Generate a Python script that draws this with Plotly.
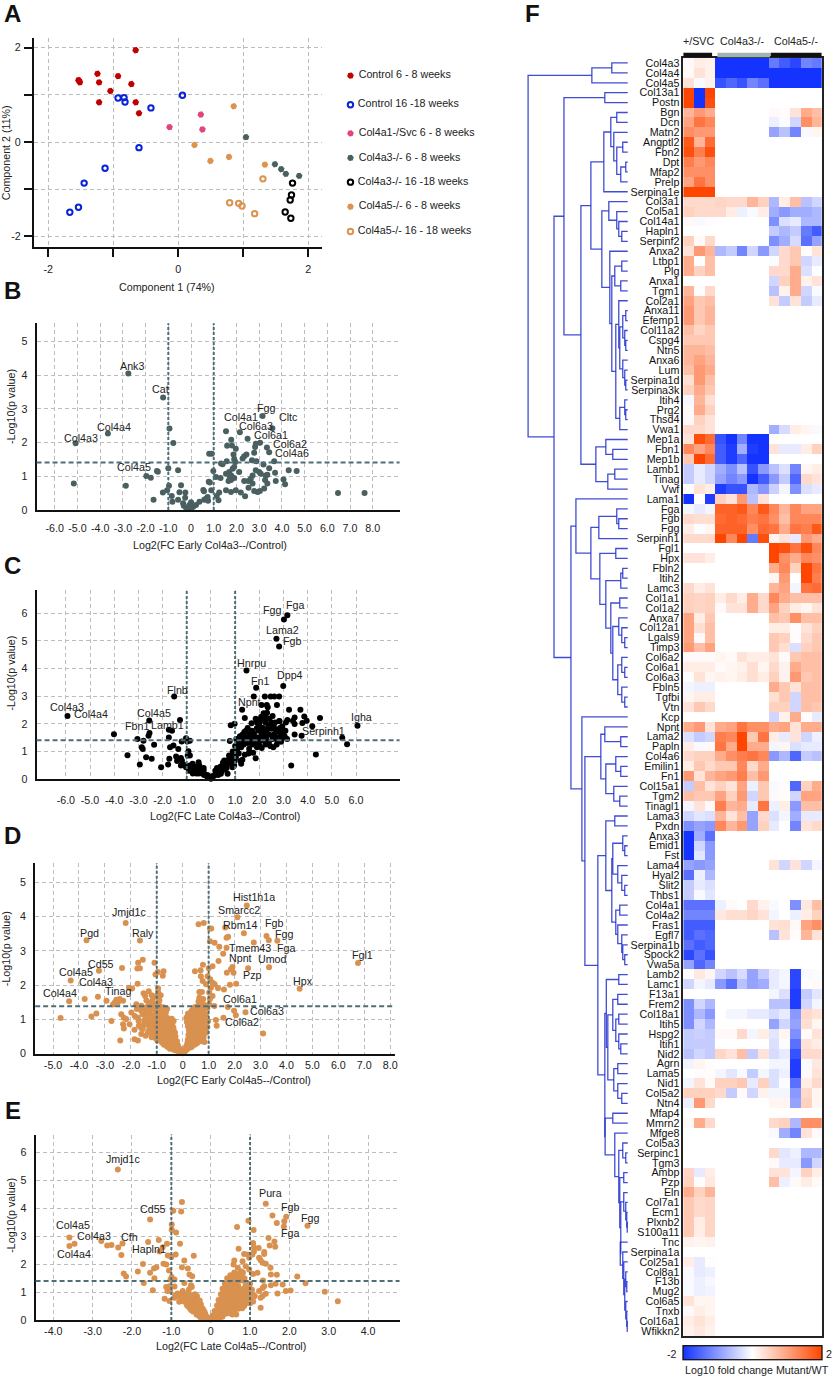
import plotly.graph_objects as go

W, H = 837, 1382
FONT = "Liberation Sans"
FS = 10.7
TXT = "#222222"

# ---------- Panel A : PCA ----------
pca_groups = ["Control 6 - 8 weeks", "Control 16 -18 weeks", "Col4a1-/Svc 6 - 8 weeks", "Col4a3-/- 6 - 8 weeks",
              "Col4a3-/- 16 -18 weeks", "Col4a5-/- 6 - 8 weeks", "Col4a5-/- 16 - 18 weeks"]
pca_colors = ["#c00000", "#0a22d8", "#e0457f", "#4a6060", "#000000", "#dc9350", "#dc9350"]
pca_filled = [True, False, True, True, False, True, False]
pca_x = [
    [-.654, -1.242, -1.523, -1.513, -.925, -1.217, -.721, -1.043, -1.217, -.654, -.603, -1.534],
    [-.925, -.833, -.818, -.419, .066, -.603, -1.125, -1.447, -1.534, -1.667],
    [-.133, .348, .373],
    [1.043, 1.488, 1.585, 1.656, 1.861],
    [1.759, 1.743, 1.723, 1.646, 1.733],
    [.854, .251, .496, .782, 1.334],
    [1.304, .792, .93, .982, 1.176],
]
pca_y = [
    [1.947, 1.448, 1.30, 1.265, 1.398, 1.265, 1.23, 1.082, .843, .843, .611, 1.314],
    [.935, .942, .85, .724, .991, -.119, -.555, -.871, -1.384, -1.49],
    [.316, .583, .267],
    [.105, -.471, -.576, -.675, -.717],
    [-.871, -1.124, -1.23, -1.483, -1.616],
    [.759, -.063, -.401, -.316, -.478],
    [-.78, -1.286, -1.3, -1.356, -1.518],
]
legend_rows = [0, 1.01, 2.0, 2.85, 3.69, 4.54, 5.4]

# ---------- Panel B ----------
b_points = [(-2.76,4.05),(-1.23,3.34),(-3.66,2.27),(-5.08,1.98),(3.15,2.79),(3.58,2.43),(-5.16,.79),(-2.87,.72),(-.95,2.42),(-.78,1.99),
(-1.0,1.24),(-.57,1.18),(-1.5,1.16),(-1.46,1.14),(-1.97,1.01),(-1.77,.96),(-1.65,.31),(-.97,.72),(-1.05,.59),(-1.24,.52),(-.85,.42),(-.82,.25),
(-.57,.31),(-.51,.53),(-.44,.74),(-.25,.52),(-.26,.37),(-.35,.2),(-.32,.13),(-.22,.07),(0,.23),(-.07,.15),(.1,.1),(.22,.15),(0,.03),(-.1,.05),
(.04,.1),(.37,.25),(.54,.6),(.57,.56),(.73,.39),(.66,.34),(.75,.28),(.58,.31),(.89,.59),(.78,.84),(.83,.82),(1.13,.42),(1.21,.29),(1.24,.52),
(.98,1.16),(.8,1.67),(.91,1.67),(1.1,.98),(1.3,.95),(1.32,1.38),(1.39,1.36),(1.57,1.45),(1.54,2.34),(1.59,1.91),(1.77,2.09),(1.8,1.92),(1.97,1.82),
(2.15,2.31),(2.49,2.12),(1.87,1.65),(1.9,1.51),(1.95,1.43),(1.9,1.28),(1.83,1.23),(1.54,1.08),(1.68,1.13),(1.77,1.03),(2.12,1.13),(1.54,.59),(1.76,.54),
(1.97,.59),(2.19,.52),(2.38,.41),(2.53,.66),(2.34,.86),(2.52,.86),(2.63,.93),(2.71,.79),(2.78,.57),(2.93,.54),(3.03,.57),(3.22,.64),(1.65,.86),(1.76,.89),
(1.9,.95),(1.71,.95),(2.27,1.53),(2.34,1.6),(2.44,1.65),(2.68,1.48),(2.88,1.45),(3.19,1.35),(2.85,1.18),(3,1.13),(3.07,1.08),(2.71,1.03),(3.44,1.24),
(3.66,1.45),(3.7,1.11),(3.29,1.03),(3.36,1.05),(3.26,.89),(3.36,.79),(3.73,.86),(4.07,.91),(4.14,.77),(4.3,1.18),(4.65,1.16),(6.47,.51),(7.64,.51),
(3.34,1.86),(3.44,1.72),(2.85,1.97),(3.04,2),(2.82,1.87),(2.78,1.7)]
b_labels = [("Ank3",-2.59,4.28),("Cat",-1.33,3.6),("Col4a4",-3.39,2.46),("Col4a3",-4.86,2.15),("Col4a5",-2.49,1.28),("Fgg",3.29,3.02),("Cltc",4.29,2.75),
("Col4a1",2.19,2.75),("Col6a3",2.88,2.49),("Col6a1",3.53,2.22),("Col6a2",4.34,1.97),("Col4a6",4.46,1.68)]

# ---------- Panel C ----------
c_points = [(3.16,5.93),(3.02,5.77),(2.71,5.08),(2.82,4.8),(1.47,3.93),(2.99,3.37),(1.87,3.3),(1.77,2.99),(2.23,2.99),(2.47,2.99),(2.62,2.99),(2.82,2.99),
(2.09,2.68),(2.31,2.68),(2.73,2.68),(-1.52,2.99),(-5.93,2.28),(-2.55,2.12),(-1.28,2.14),(1.29,2.51),(1.4,2.21),(6.06,1.93),(-4.01,1.62),(5.43,1.49),(5.63,1.26),
(4.34,.89),(3.32,.49),(4.51,2.21),(4.19,1.91),(3.75,1.57),(3.46,1.61),(3.7,2.51),(3.23,2.51),(3.86,2.26),(3.96,2.11),(3.78,2.03),(3.46,2.23),(3.39,2.11),(3.46,1.99),
(3.16,2.14),(2.84,2.09),(-3.04,1.45),(-2.79,1.39),(-2.54,1.67),(-2.58,1.57),(-2.35,1.24),(-2.86,1.15),(-2.82,1.09),(-3.45,.86),(-2.68,.79),(-2.45,.73),(-2.94,.53),
(-2.06,.43),(-1.77,.53),(-1.72,.73),(-1.74,1.78),(-1.61,1.75),(-1.74,1.5),(-1.55,1.21),(-1.69,1.15),(-1.21,1.36),(-1.03,1.48),(-.87,1.39),(-.98,1.36),(-1.35,1.09),
(-.93,1.01),(-.87,.85),(-.96,.85),(-1.44,.82),(-1.37,.73),(-1.24,.76),(-1.2,.67),(-1.4,.65),(-1.24,.49),(-1.13,.53),(-1.03,.43),(-.89,.49),(-.76,.55),(-.51,.61),
(-.48,.49),(-.82,.31),(-.69,.37),(-.62,.25),(-.41,.31),(-.34,.19),(-.21,.13),(-.14,.07),(-.07,.04),(0,.01),(.07,.07),(.14,.13),(.21,.19),(.27,.25),(.34,.31),(.41,.19),
(.51,.43),(.55,.67),(.62,.49),(.69,.19),(.76,.55),(.82,.79),(.89,.43),(.96,.49),(1.03,.79),(1.06,1.03),(-.9,.3),(-.75,.4),(-.6,.45),(-.55,.3),(-.45,.4),(-.5,.2),(-.3,.3),
(-.28,.15),(-.15,.15),(-.1,.1),(.1,.12),(.18,.3),(.25,.4),(.3,.15),(.38,.35),(.45,.28),(.5,.6),(.58,.35),(.65,.4),(.72,.7),(.8,.62),(.88,.68),(.95,.85),(1.02,.95),(1.1,1.1),
(1.15,.92),(1.22,.65),(1.25,.55),(1.3,.7),(1.4,.88),(1.55,.92),(1.75,.95),(1.85,.75),(.78,1.38),(.82,1.95),(.98,2),(1.05,1.45),(1.1,1.4),(1.2,1.32),(1.25,1.15),(1.3,1.6),
(1.35,1.25),(1.38,1.7),(1.45,1.52),(1.5,1.3),(1.52,1.85),(1.58,1.1),(1.6,1.62),(1.65,1.4),(1.68,2.02),(1.72,1.25),(1.75,1.55),(1.8,1.35),(1.85,2.18),(1.9,1.15),(1.95,1.5),
(1.98,1.75),(2.0,1.95),(2.05,1.4),(2.08,2.25),(2.12,1.65),(2.15,1.85),(2.18,2.38),(2.22,1.55),(2.25,2.05),(2.3,1.75),(2.32,2.4),(2.38,1.95),(2.42,2.18),(2.45,1.2),(2.5,1.82),
(2.55,2.28),(2.58,1.15),(2.62,1.62),(2.65,2.05),(2.7,1.5),(2.75,1.4),(2.78,1.72),(2.82,2.1),(2.88,1.6),(2.9,1.35),(2.95,1.9),(3.0,1.7),(3.05,1.55),(3.1,2.05),(3.15,1.45),
(2.1,1.12),(2.25,1.25),(2.4,1.35),(1.6,.95),(1.15,1.25),(1.35,1.45),(1.0,1.2),(2.35,2.6),(2.2,2.2),(2.6,1.9),(2.05,2.1),(1.9,1.85),(1.7,1.75),(1.45,1.75),(1.25,1.42),
(1.2,1.55),(1.3,1.35),(1.42,1.38),(1.55,1.48),(1.62,1.3),(1.7,1.45),(1.78,1.65),(1.85,1.5),(1.92,1.32),(2.0,1.22),(2.08,1.55),(2.15,1.4),(2.2,1.72),(2.28,1.45),(2.35,1.82),(2.42,1.6),(2.5,2.05),
(2.55,1.45),(2.68,1.78),(2.72,1.25),(2.8,1.45),(2.85,1.85),(2.92,1.75),(2.98,1.5),(3.08,1.75),(2.25,2.3),(2.0,2.15),(1.9,2.05),(.85,.85),(.9,1.0),(.98,.65),(.75,.85),(.6,.6),(.4,.45),(-.3,.4),(-.6,.2),(-.75,.2)]
c_labels = [("Fga",3.46,6.3),("Fgg",2.53,6.12),("Lama2",2.94,5.38),("Fgb",3.34,4.99),("Hnrpu",1.66,4.21),("Dpp4",3.27,3.77),("Fn1",2.03,3.55),("Flnb",-1.4,3.23),
("Npnt",1.61,2.8),("Col4a3",-5.95,2.59),("Col4a4",-4.97,2.35),("Col4a5",-2.34,2.39),("Fbn1",-3.05,1.92),("Lamb1",-1.79,1.97),("Igha",6.22,2.26),("Serpinh1",4.67,1.73)]

# ---------- Panel D ----------
d_points = [(2.47,4.32),(2.11,3.98),(.61,3.77),(.81,3.81),(-2.2,3.81),(1.64,3.68),(1.05,3.65),(1.1,3.65),(2.36,3.51),(3.23,3.43),(3.32,3.31),(3.65,3.29),(2.74,3.24),(1.75,3.41),
(1.69,3.38),(1.05,3.28),(1.23,3.23),(1.41,3.12),(1.69,3.09),(1.56,2.91),(1.38,2.7),(-1.65,3.3),(-3.71,3.31),(-1.54,2.74),(-1.72,2.65),(-1.09,2.65),(-2.34,2.5),(-3.23,2.42),
(-1.75,2.48),(-1.65,2.49),(-.96,2.38),(-.74,2.4),(-1.05,2.31),(-.77,2.27),(-4.32,2.13),(-1.74,2.04),(-2.07,1.92),(-1.95,1.9),(-.95,1.91),(-1.31,1.82),(-1.51,1.76),(-1.45,1.68),
(-4.38,1.53),(-3.78,1.59),(-3.27,1.66),(-2.94,1.54),(-2.56,1.57),(-2.43,1.59),(-2.3,1.54),(-2.62,1.49),(-2.5,1.49),(-2.69,1.43),(-4.71,1.04),(-3.52,1.08),(-3.33,1.17),(-2.75,.95),
(-2.41,.38),(-1.86,.42),(-1.73,.38),(6.76,2.64),(4.51,1.89),(3.33,2.52),(2.52,2.49),(1.92,2.53),(1.86,2.46),(1.7,2.36),(1.96,2.36),(1.82,2.01),(2.06,2.04),(3.1,.59),(2.42,1.21),
(1.98,1.25),(2.05,1.12),(1.74,1.36),(1.57,1.05),(1.28,.98),(1.31,.81),(1.59,1.87),(1.36,1.91),(1.23,2.02),(1.09,1.92),(.78,2.59),(.47,2.4),(.69,2.43),(1,2.49),(1.15,2.55),(.7,2.26),
(.96,2.26),(.77,2.12),(.9,2.02),(1.06,2.17),(1.15,2.07),(.64,1.8),(.74,1.8),(1.02,1.78),(1.15,1.68),(.64,1.63),(.79,1.59),(.61,1.52),(1.05,1.59),(1.02,1.44),(1.22,1.39),
(-2.37,1.15),(-2.27,1.05),(-2.18,1.01),(-2.3,.86),(-2.27,.73),(-2.05,.86),(-1.98,1.2),(-1.77,1.3),(-1.79,1.44),(-1.86,.7),(-1.73,1.05),(-1.69,.81),(-1.54,.72),(-1.6,.57),(-1.43,.52),
(-1.47,1.34),(-1.34,1.39),(-1.28,1.49),(-1.15,1.59),(-1.02,1.68),(-.9,1.55),(-1.1,1.45),(-.92,1.42),(-.75,1.35),(-1.2,1.3),(-1.05,1.25),(-.85,1.22),(-.65,1.2),(-1.55,1.15),(-1.4,1.12),
(-1.25,1.15),(-1.1,1.1),(-.95,1.08),(-.8,1.05),(-.6,1.05),(-.42,1.02),(-1.48,.98),(-1.32,.98),(-1.18,.95),(-1.02,.95),(-.88,.92),(-.72,.92),(-.55,.9),(-.4,.88),(-1.4,.85),(-1.25,.82),
(-1.12,.82),(-.98,.8),(-.82,.8),(-.68,.78),(-.52,.78),(-.36,.76),(-1.3,.7),(-1.15,.7),(-1.02,.68),(-.88,.68),(-.72,.66),(-.58,.66),(-.45,.64),(-.3,.62),(-1.15,.58),(-1.0,.56),(-.85,.55),
(-.7,.55),(-.55,.53),(-.4,.5),(-.28,.5),(-1.05,.45),(-.9,.44),(-.75,.44),(-.6,.42),(-.45,.4),(-.32,.38),(-.22,.36),(-.8,.32),(-.65,.32),(-.5,.3),(-.38,.28),(-.26,.26),(-.18,.24),(-.6,.2),
(-.45,.2),(-.32,.18),(-.22,.16),(-.12,.14),(-.3,.1),(-.2,.08),(-.12,.07),(-.06,.04),(0,.01),(.04,.05),(.1,.08),(.08,.14),(.16,.12),(.14,.22),(.22,.2),(.3,.18),(.18,.32),(.26,.3),(.36,.28),
(.46,.26),(.2,.42),(.3,.42),(.4,.4),(.5,.4),(.62,.38),(.84,.34),(.22,.55),(.32,.54),(.42,.52),(.52,.52),(.62,.5),(.74,.5),(.24,.68),(.34,.66),(.44,.66),(.54,.64),(.64,.64),(.76,.62),(.9,.62),
(.2,.8),(.3,.8),(.4,.78),(.5,.78),(.6,.76),(.7,.76),(.82,.74),(.95,.78),(.16,.92),(.26,.92),(.36,.9),(.46,.9),(.56,.88),(.66,.88),(.78,.88),(.98,.95),(.14,1.05),(.24,1.05),(.34,1.03),
(.44,1.03),(.54,1.0),(.64,1.0),(.76,1.02),(.2,1.16),(.3,1.15),(.4,1.15),(.5,1.14),(.6,1.12),(.72,1.14),(.9,1.15),(.35,1.26),(.45,1.26),(.55,1.25),(.65,1.24),(.8,1.28),(.48,1.36),(.6,1.36),(.72,1.35),
(.95,1.32),(.68,1.45),(.82,1.42),
(-1.85,1.1),(-1.7,.95),(-1.6,1.25),(-1.5,.85),(-1.35,.6),(-1.2,.48),(-1.6,.75),(-1.45,1.22),(-1.3,1.22),(-1.15,1.05),(-1.0,1.15),(-.9,1.0),(-.75,1.15),(-.65,.98),(-.5,.98),(-.35,.95),(-1.35,.92),(-1.2,.75),
(-1.08,.88),(-.95,.72),(-.8,.72),(-.65,.7),(-.5,.7),(-.35,.68),(-1.1,.5),(-.95,.5),(-.78,.5),(-.62,.48),(-.48,.46),(-.34,.44),(-.98,.38),(-.82,.38),(-.68,.38),(-.52,.36),(-.4,.34),(-.72,.26),(-.56,.25),(-.42,.25),
(-.3,.22),(-.5,.14),(-.38,.13),(-.25,.12),(-1.6,1.4),(-1.0,1.35),(-.82,1.32),(-.6,1.3),(-1.4,1.55),(-1.2,1.7),(-.95,1.8),(-.85,1.7),
(.25,.18),(.35,.2),(.42,.32),(.55,.3),(.7,.36),(.28,.48),(.38,.46),(.48,.46),(.58,.44),(.68,.44),(.8,.46),(.28,.6),(.38,.6),(.48,.58),(.58,.58),(.7,.56),(.82,.56),(.25,.74),(.35,.72),(.45,.72),(.55,.7),(.65,.7),
(.76,.68),(.88,.7),(.22,.86),(.32,.85),(.42,.84),(.52,.84),(.62,.82),(.72,.82),(.85,.84),(.2,.98),(.3,.97),(.4,.97),(.5,.95),(.6,.94),(.7,.95),(.85,.98),(.26,1.1),(.36,1.09),(.46,1.08),(.56,1.07),(.68,1.08),(.84,1.08),
(.3,1.2),(.42,1.2),(.52,1.2),(.62,1.18),(.75,1.2),(.42,1.32),(.55,1.31),(.66,1.3),(.78,1.38),(.62,1.42),(.75,1.5),(.68,1.6),(.88,1.4)]
d_labels = [("Hist1h1a",2.73,4.58),("Smarcc2",2.18,4.18),("Rbm14",2.24,3.76),("Fgb",3.53,3.82),("Fgg",3.89,3.5),("Fga",3.97,3.09),("Tmem43",2.61,3.07),("Npnt",2.24,2.78),("Umod",3.48,2.75),
("Pzp",2.66,2.28),("Hpx",4.65,2.11),("Fgl1",6.93,2.89),("Col6a1",2.2,1.59),("Col6a3",3.24,1.23),("Col6a2",2.3,.93),("Jmjd1c",-2.04,4.12),("Pgd",-3.59,3.53),("Raly",-1.54,3.52),("Cd55",-3.14,2.6),
("Col4a5",-4.12,2.39),("Col4a3",-3.33,2.09),("Col4a4",-4.72,1.78),("Tinag",-2.5,1.82)]

# ---------- Panel E ----------
e_points = [(-2.36,5.4),(-.73,4.23),(-.95,3.92),(-.75,3.89),(-1.54,3.6),(-.99,3.42),(-.99,3.24),(-.88,3.14),(-3.59,2.96),(-3.46,2.73),(-3.59,2.65),(-2.78,2.83),(-2.63,2.67),(-2.52,2.69),(-2.35,2.6),
(-2.24,2.74),(-2.27,2.33),(-1.59,2.8),(-1.32,2.87),(-1.11,2.73),(-.78,2.73),(-1.22,2.61),(-1.3,2.46),(-1.09,2.31),(-1,2.26),(-.89,2.35),(-.43,2.3),(-.67,2.13),(-1.72,2.01),(-1.2,2.02),(-1.13,1.99),
(-1.38,1.89),(-1.44,1.85),(-.73,1.89),(-.58,1.85),(-1.06,1.77),(-1.85,1.74),(-1.54,1.69),(-.54,1.63),(-.47,1.57),(-2.21,1.67),(-2.15,1.56),(-1.43,1.5),(-.99,1.54),(-1.02,1.45),(-.92,1.45),(-1.7,1.33),
(-.67,1.33),(-1.47,1.07),(-1.13,1.18),(-1.05,1.21),(-.92,1.2),(-.5,1.25),(-.48,1.18),(-1.1,1.04),(-1.03,1.04),(-1.17,.76),(-1.05,.68),(-.92,.8),(-.84,.95),(-.71,1.04),(-.67,.92),(-.73,.68),
(1.4,4.17),(1.57,3.75),(1.92,3.7),(.96,3.56),(1.87,3.54),(1.68,3.48),(2.46,3.38),(1.86,3.35),(.67,3.33),(1.09,3.23),(1.47,2.94),(1.62,2.81),(1.08,2.76),(1.5,2.67),(1.64,2.63),(1.1,2.61),(1.22,2.58),
(.71,2.55),(1.36,2.44),(1.36,2.37),(.85,2.37),(.94,2.35),(1.1,2.46),(1.06,2.35),(.98,2.23),(1.23,2.23),(1.27,2.14),(1.32,2.05),(1.4,2.02),(1.52,1.87),(.6,2.13),(.58,1.99),(.81,2.11),(.89,1.93),(.69,1.87),
(.77,1.75),(.98,1.81),(1.08,1.65),(1.19,1.69),(1.53,1.63),(1.68,1.62),(2.2,1.56),(2.41,1.32),(2.9,1.01),(3.23,.67),(2.03,1.06),(1.91,1.04),(1.83,1.27),(1.65,1.3),(1.53,1.25),(1.33,1.42),(1.32,1.15),(1.36,1.21),
(1.4,.94),(1.23,1.04),(1.32,.86),(1.27,.8),(1.27,.44),(1.7,.95),
(.42,1.5),(.52,1.48),(.6,1.55),(.7,1.52),(.78,1.6),(.86,1.5),(.36,1.3),(.46,1.28),(.55,1.33),(.64,1.3),(.92,1.28),(1.0,1.3),(.3,1.12),(.4,1.1),(.5,1.14),(.6,1.08),(.7,1.12),(.8,1.1),(.95,1.12),(1.05,1.08),
(.26,.92),(.35,.9),(.45,.94),(.55,.9),(.65,.92),(.75,.88),(.85,.93),(.95,.9),(1.05,.92),(1.12,.86),(.2,.72),(.3,.7),(.4,.74),(.5,.7),(.6,.72),(.7,.68),(.8,.72),(.9,.7),(1.0,.72),(1.08,.66),(.16,.52),(.25,.5),
(.35,.54),(.45,.5),(.55,.52),(.65,.48),(.75,.52),(.85,.5),(.1,.32),(.18,.3),(.26,.34),(.34,.3),(.42,.32),(.5,.28),(.6,.3),(.05,.16),(.1,.14),(.15,.18),(.2,.14),(.25,.16),(.3,.12),(0,.02),(.03,.06),(.06,.04),(.09,.08),(.12,.06),
(-.62,.9),(-.5,.88),(-.4,.92),(-.35,.86),(-.7,.75),(-.6,.74),(-.5,.76),(-.42,.72),(-.34,.74),(-.28,.7),(-.62,.6),(-.52,.58),(-.44,.62),(-.36,.58),(-.3,.6),(-.25,.56),(-.55,.45),(-.46,.44),(-.38,.46),(-.3,.42),(-.24,.44),(-.2,.4),
(-.45,.3),(-.36,.28),(-.28,.32),(-.22,.28),(-.16,.3),(-.3,.15),(-.22,.14),(-.16,.16),(-.1,.12),(-.12,.05),(-.08,.04),(-.04,.06),
(.45,1.4),(.55,1.42),(.65,1.44),(.75,1.42),(.85,1.4),(.5,1.6),(.6,1.7),(.7,1.65),(.82,1.7),(.4,1.22),(.5,1.24),(.6,1.22),(.7,1.22),(.88,1.2),(.98,1.18),(.33,1.02),(.43,1.0),(.53,1.02),(.63,1.0),(.73,1.0),(.83,1.02),
(.93,1.0),(1.03,1.0),(.28,.82),(.38,.8),(.48,.84),(.58,.8),(.68,.82),(.78,.8),(.88,.82),(.98,.8),(1.08,.8),(.22,.62),(.32,.6),(.42,.64),(.52,.6),(.62,.62),(.72,.6),(.82,.62),(.92,.6),(1.0,.6),(.2,.42),(.3,.4),(.4,.44),
(.5,.4),(.6,.42),(.7,.4),(.8,.42),(.13,.24),(.22,.22),(.3,.24),(.38,.22),(.46,.24),(.55,.2),(.65,.2),(.08,.1),(.16,.08),(.24,.1),
(-.78,.92),(-.68,.84),(-.58,.98),(-.46,.84),(-.8,.65),(-.66,.66),(-.56,.68),(-.46,.66),(-.38,.65),(-.32,.66),(-.6,.52),(-.5,.5),(-.4,.52),(-.32,.5),(-.5,.36),(-.42,.38),(-.32,.36),(-.26,.36),(-.2,.3),(-.36,.2),(-.28,.22),
(-.2,.2),(-.14,.22),(-.18,.08),(-.25,.08),(-.8,.85),(-.55,1.1),(-.75,.8),(-.9,.9)]
e_labels = [("Jmjd1c",-2.22,5.76),("Pura",1.52,4.55),("Cd55",-1.47,3.98),("Fgb",2.01,4.04),("Fgg",2.52,3.64),("Fga",2.02,3.13),("Col4a5",-3.49,3.39),("Col4a3",-2.96,3.02),("Cfh",-2.07,2.99),
("Hapln1",-1.58,2.56),("Col4a4",-3.48,2.37)]

# ---------- Panel F : heatmap ----------
N = None
_ = [N] * 5
_3 = [N] * 3
heat_rows = [
("Col4a3",[.05,.2,.15],[-2,-2,-2,-2,-2],[-1.3,-1.6,-1.8,-1.2,-1.3]),
("Col4a4",[.05,.3,.15],[-2,-2,-2,-2,-2],[-2,-2,-2,-2,-2]),
("Col4a5",[.3,-.05,.15],[-1.7,-1.5,-1.7,-1.2,-1.4],[-2,-2,-2,-2,-2]),
("Col13a1",[2,-2,2],_,_),
("Postn",[2,-2,1.9],_,_),
("Bgn",[.8,1.1,.9],_,[.05,.03,.3,.9,.7]),
("Dcn",[1,1.5,1.3],_,[-.15,-.03,-.4,1.2,.8]),
("Matn2",[1.2,1.1,1.1],_,[-.9,-.6,-1.2,-.05,.1]),
("Angptl2",[1.8,.8,1.6],_,_),
("Fbn2",[1.9,1.4,1.9],_,_),
("Dpt",[1.4,1.1,1.3],_,_),
("Mfap2",[1.2,1.2,1.2],_,_),
("Prelp",[1,1.5,1.2],_,_),
("Serpina1e",[2,2,2],_,_),
("Col3a1",[.4,.4,.4],[.45,.4,.4,.8,.5],[-.7,.2,.7,-.6,-.4]),
("Col5a1",[.5,.4,.4],[.4,.2,-.15,-.05,.2],[-.8,-1,-.8,-.8,-.7]),
("Col14a1",[.05,-.05,.02],_,[-1.1,-.3,-.2,-.7,-.7]),
("Hapln1",_3,_,[-.5,-.7,-.5,-1.3,-1.6]),
("Serpinf2",[.5,.05,.4],_,[-1.1,-.8,-.35,-1.4,-.9]),
("Anxa2",[.3,1.1,.8],[-.7,-.5,-1.2,-.4,-1],[-.4,.4,.6,.02,.3]),
("Ltbp1",[.9,0,.7],_,[-.03,.4,.6,-.4,-.2]),
("Plg",[.9,.5,.7],_,[.4,.4,.9,-.3,-.02]),
("Anxa1",_3,_,[-.4,.5,.9,.15,.3]),
("Tgm1",[.8,.02,.4],_,[-.6,.15,.9,-.4,-.05]),
("Col2a1",[1,.6,.7],_,[.3,-.5,.3,-.5,-.2]),
("Anxa11",[1.1,.6,.8],_,_),
("Efemp1",[1.1,.6,.8],_,_),
("Col11a2",[.7,.45,.6],_,_),
("Cspg4",[.6,.6,.6],_,_),
("Ntn5",[.8,.8,.7],_,_),
("Anxa6",[.8,1,.8],_,_),
("Lum",[.7,1.1,.9],_,_),
("Serpina1d",[.35,1.1,.7],_,_),
("Serpina3k",[.5,.9,.6],_,_),
("Itih4",[-.08,.8,.35],_,_),
("Prg2",[.05,.9,.5],_,_),
("Thsd4",[.05,.5,.3],_,_),
("Vwa1",[.4,.4,.3],_,[-.8,-.35,.2,.1,-.05]),
("Mep1a",[.3,1.9,1.6],[-1.7,-2,-1.2,-2,-2],_),
("Fbn1",[1.3,1,1.3],[-1.6,-1.9,-.8,-1.9,-2],[.3,-.2,-.2,.2,.5]),
("Mep1b",[.6,2,1.6],[-1.6,-1.9,-1.5,-2,-2],_),
("Lamb1",[-.5,-.2,-.4],[-.8,-1.1,-.6,-1.7,-1],[-.6,-.3,-1.2,.1,.2]),
("Tinag",[-.5,-.2,-.4],[-.9,-1.2,-1,-2,-1.6],[-1,-.5,-1.5,.4,.3]),
("Vwf",[.02,.3,.2],[-1.9,-1.7,-1.7,-.7,-1],[-.45,-.1,-1.1,-.3,-.2]),
("Lama1",[-2,0,-1.9],[.5,.3,1.1,-.6,.3],_),
("Fga",[-.1,-.2,-.1],[1.7,1.7,1.8,1.3,1.8],[1.3,.8,1.3,1,1]),
("Fgb",[.4,.35,.35],[1.6,1.7,1.6,1.4,1.5],[1.2,.7,1.3,1.3,1.3]),
("Fgg",[.2,-.03,.1],[1.7,1.7,1.7,1.2,1.6],[1.5,.9,1.5,1.4,1.8]),
("Serpinh1",[.4,.4,.4],[2,1.3,2,-1.3,1.9],[.1,.3,-.2,1.1,.9]),
("Fgl1",_3,_,[2,1.9,1.5,1.9,1.3]),
("Hpx",[.3,.3,.2],_,[2,1.2,.9,1.3,1.2]),
("Fbln2",_3,_,[.9,1.3,.5,2,1.5]),
("Itih2",_3,_,[.1,1.1,0,2,1.4]),
("Lamc3",[.4,.2,.3],_,[.8,1,-.1,1.5,1.6]),
("Col1a1",[.5,.45,.5],[.2,.4,.2,.9,.4],[1.3,.9,.7,.7,.7]),
("Col1a2",[.5,.45,.5],[.05,.3,.3,.9,.4],[1,.5,.2,.1,.3]),
("Anxa7",[1,.2,.6],_,[.7,.6,1.2,.7,.7]),
("Col12a1",[1,.35,.7],_,[.2,.2,-.02,.3,.5]),
("Lgals9",[1,.05,.7],_,[.6,.5,.03,.4,.6]),
("Timp3",[1.1,.7,1],_,[.6,.35,-.3,.5,.6]),
("Col6a2",[.05,.05,.05],[.1,.05,.3,.2,.2],[.3,.05,.6,.7,.7]),
("Col6a1",[.2,.2,.2],[.05,.1,.15,.35,.1],[.4,.15,.9,.7,.7]),
("Col6a3",[.02,.3,.1],[.15,.1,.2,.35,.2],[.5,.15,1.1,.6,.7]),
("Fbln5",[-.1,-.15,-.15],_,[.9,.6,.3,.7,.7]),
("Tgfbi",[.1,.2,.2],_,[.35,.6,-.4,.7,.7]),
("Vtn",[.3,.6,.4],_,[.5,.5,-.4,.7,.6]),
("Kcp",_3,_,[-.4,.15,.9,.03,-.2]),
("Npnt",[.9,1.1,.3],[.9,1,1.5,1.2,1.2],[.9,1,.3,.9,.9]),
("Lama2",[-.3,-.5,-.4],[1.4,1.3,2,.6,1.5],[.2,-.2,.3,-.4,-.15]),
("Papln",[.2,-.05,.05],[1.5,.9,2,.9,.9],[-.1,.1,-.3,-.2,-.2]),
("Col4a6",[.4,.5,.5],[.9,1.2,1.4,1.5,1.3],[-1,-.7,-1.5,-.5,-.6]),
("Emilin1",[.2,.6,.4],[.6,.6,1.3,.4,.9],_),
("Fn1",[1.1,.3,.8],[1,1.1,1.4,.7,1.1],_),
("Col15a1",[-.5,.7,.3],[.5,.3,1,-.15,.6],[-.05,.03,-1.5,.5,.9]),
("Tgm2",[.7,.6,.6],[1,.5,1.1,-.4,.6],[.05,.02,-.4,1,1]),
("Tinagl1",[-.1,.3,.05],[1.4,.8,.9,-.2,1.5],[-.15,.2,-1,.7,.7]),
("Lama3",[-.4,-.25,-.3],[.8,.3,.7,-.9,.4],[-.3,-.1,-.8,-.2,-.2]),
("Pxdn",[-1.1,-.9,-1],[1.3,.8,1.1,-.9,.5],[-.2,0,-1.2,.3,.4]),
("Anxa3",[-2,-.8,-1.4],_,_),
("Emid1",[-2,-.4,-1],_,_),
("Fst",[-2,-.25,-1],_,_),
("Lama4",[-.9,-1,-.9],_,[.3,-.4,.3,-.4,-.1]),
("Hyal2",[-1.4,-.15,-.7],_,_),
("Slit2",[-.5,-.2,-.3],_,_),
("Thbs1",[-.5,-.05,-.25],_,_),
("Col4a1",[-1.4,-1.4,-1.4],[-.15,.05,0,.4,.15],[-.05,0,-1.1,.25,.7]),
("Col4a2",[-1.2,-1.2,-1.2],[.25,.35,.35,.45,.3],[-.1,0,-.15,.2,.5]),
("Fras1",[-1.6,-1.6,-1.6],_,[.3,.35,.05,1,1.2]),
("Egfl7",[-1.6,-1.4,-1.5],_,[-.6,.3,.03,.8,.3]),
("Serpina1b",[-1.4,-1.6,-1.5],_,_),
("Spock2",[-1.8,-1.4,-1.7],_,_),
("Vwa5a",[-.9,-1.5,-1.2],_,_),
("Lamb2",[.02,.25,.1],[-.4,-.6,-.35,-.9,-.5],[-.2,-.1,-1.8,-.05,-.03]),
("Lamc1",[-.4,-.1,-.2],[-1,-1.4,-.6,-.9,-.8],[-.2,-.1,-1.8,.03,.05]),
("F13a1",_3,_,[-.1,-.3,-1.9,-.5,-.25]),
("Frem2",[-1.1,-.4,-.7],_,[-.6,-.6,-1.9,-.4,-.1]),
("Col18a1",[-1.1,-.7,-1],[0,-.1,-.1,-.2,-.2],[-.35,-.2,-1,.4,.3]),
("Itih5",[-1.1,-.4,-.7],_,[-.9,-.4,-.9,.35,.1]),
("Hspg2",[-.5,-.45,-.5],[.05,.05,.4,-.1,.2],[-.25,.1,-1.1,.05,.3]),
("Itih1",[-.5,-.5,-.5],_,[-.3,-.03,-1.4,.3,.2]),
("Nid2",[-.6,-.4,-.5],[.45,.3,.7,-.5,.3],[-.35,-.2,-1.7,.4,.4]),
("Agrn",[-.12,.1,.02],_,[-.1,-.1,-1.9,-.05,.25]),
("Lama5",[0,.03,.03],[-.1,-.25,-.05,-.5,-.1],[-.3,-.15,-1.9,.05,.3]),
("Nid1",[-.1,.3,.05],[.5,.5,.6,-.2,.5],[-.3,-.03,-1.4,.2,.4]),
("Col5a2",[.5,.5,.5],[.4,-.5,.05,-.4,.15],[-.1,-.1,-1,.4,.1]),
("Ntn4",[-.15,1.1,.4],_,[.1,.1,-.9,.5,.1]),
("Mfap4",_3,_,_),
("Mmrn2",[.05,.9,.4],_,[.4,.5,-.7,1.2,1.2]),
("Mfge8",_3,_,[-.05,-.8,-1.2,.3,.05]),
("Col5a3",_3,_,_),
("Serpinc1",_3,_,[.4,-.25,-.15,-.7,-.7]),
("Tgm3",_3,_,[.05,-.2,-.2,-1,-.4]),
("Ambp",[.45,-.2,.2],_,[.3,.3,-.1,.5,.2]),
("Pzp",[.5,.02,.25],_,[.7,-.15,.05,.2,.05]),
("Eln",[.9,.5,.8],_,_),
("Col7a1",[.6,.4,.45],_,_),
("Ecm1",[.6,.4,.45],_,_),
("Plxnb2",[.6,.2,.45],_,_),
("S100a11",[.6,.2,.45],_,_),
("Tnc",[.15,.1,.15],_,_),
("Serpina1a",_3,_,_),
("Col25a1",[.2,-.2,.03],_,_),
("Col8a1",[-.05,-.2,-.15],_,_),
("F13b",[-.05,-.15,-.08],_,_),
("Mug2",[-.05,-.15,-.12],_,_),
("Col6a5",[.3,.1,.1],_,_),
("Tnxb",[.05,.2,.1],_,_),
("Col16a1",[.2,.3,.2],_,_),
("Wfikkn2",[.15,.25,.15],_,_),
]
genes = [r[0] for r in heat_rows]
heat_z = [r[1] + r[2] + r[3] for r in heat_rows]
gene_row = {g: i for i, g in enumerate(genes)}

# dendrogram: (merge height, child, child); leaves are gene names
t_top = (69,(89,"Col4a3","Col4a4"),"Col4a5")
t_a = (81,(88,(94,"Bgn","Dcn"),(91,"Matn2",(94,(100,"Angptl2","Fbn2"),(98,(103,"Dpt","Mfap2"),"Prelp")))),"Serpina1e")
t_b1 = (86,"Col3a1",(94,"Col5a1",(96,"Col14a1",(99,"Hapln1","Serpinf2"))))
t_b2a = (92,(99,"Ltbp1","Plg"),(98,"Anxa1","Tgm1"))
t_b2b = (93,(96,"Col2a1",(97,(100,(103,"Anxa11","Efemp1"),(102,"Col11a2",(103,"Cspg4","Ntn5"))),(100,"Anxa6",(102,"Lum",(103,"Serpina1d","Serpina3k"))))),(97,(102,"Itih4",(103,"Prg2","Thsd4")),"Vwa1"))
t_b = (79,t_b1,(87,"Anxa2",(89,t_b2a,t_b2b)))
t_c = (73,(83,"Mep1a",(90,"Fbn1","Mep1b")),(85,(92,"Lamb1","Tinag"),"Vwf"))
t_upper = (41,(82,"Col13a1","Postn"),(58,(68,t_a,t_b),t_c))
t_d1 = (76,(94,"Fga",(96,"Fgb","Fgg")),"Serpinh1")
t_d2 = (77,(93,"Fgl1","Hpx"),(83,(98,(100,"Fbln2","Itih2"),"Lamc3"),(88,(97,"Col1a1","Col1a2"),(90,(96,"Anxa7",(99,"Col12a1",(102,"Lgals9","Timp3"))),(95,(99,"Col6a2",(102,"Col6a1","Col6a3")),(99,"Fbln5",(102,"Tgfbi","Vtn")))))))
t_d = (53,"Lama1",(68,t_d1,t_d2))
t_e = (78,(82,"Npnt",(98,"Lama2","Papln")),(83,(93,"Col4a6",(98,"Emilin1","Fn1")),(91,"Col15a1",(97,"Tgm2","Tinagl1"))))
t_f = (83,(92,"Lama3","Pxdn"),(89,(90,(100,"Anxa3",(102,"Emid1","Fst")),(95,"Lama4",(99,"Hyal2",(102,"Slit2","Thbs1")))),(93,(97,"Col4a1","Col4a2"),(95,"Fras1",(99,"Egfl7",(100,"Serpina1b",(102,"Spock2","Vwa5a")))))))
t_g = (83.5,(96,"Lamb2","Lamc1"),(85,(90,(95,"F13a1","Frem2"),(93,(96,"Col18a1","Itih5"),(96,"Hspg2",(98,"Itih1","Nid2")))),(91,(95,"Agrn","Lama5"),(95,"Nid1",(99,"Col5a2","Ntn4")))))
t_h_tail = (98,(101,"Eln",(103,"Col7a1",(104,"Ecm1",(104.5,"Plxnb2","S100a11")))),(97.5,"Tnc",(100,"Serpina1a",(101,"Col25a1",(102,(103,"Col8a1",(104,"F13b","Mug2")),(103,"Col6a5",(104,"Tnxb",(104.5,"Col16a1","Wfikkn2"))))))))
t_h = (82.3,(90,"Mfap4","Mmrn2"),(92,"Mfge8",(96,(100,"Col5a3",(103,"Serpinc1","Tgm3")),(97,(101,"Ambp","Pzp"),t_h_tail))))
t_lower = (48,t_d,(59,"Kcp",(62,t_e,(75,t_f,(82,t_g,t_h)))))
dendro = (5,t_top,(31,t_upper,t_lower))

DLEAF = 105
dx, dy = [], []
def walk(node):
    if isinstance(node, str):
        return DLEAF, gene_row[node]
    h, a, b = node
    xa, ya = walk(a)
    xb, yb = walk(b)
    dx.extend([xa, h, h, xb, None])
    dy.extend([ya, ya, yb, yb, None])
    return h, (ya + yb) / 2
walk(dendro)

# ---------- layout helpers ----------
def dom_x(a, b): return [a / W, b / W]
def dom_y(top, bottom): return [1 - bottom / H, 1 - top / H]
def ax_base(**kw):
    d = dict(zeroline=False, showline=True, linecolor="#111111", linewidth=2, showgrid=True, gridcolor="#bdbdbd", griddash="4px,3px", gridwidth=1,
             tickfont=dict(family=FONT, size=FS, color=TXT), tickmode="array", fixedrange=True)
    d.update(kw)
    return d

fig = go.Figure()
annotations, shapes = [], []
def paper_text(text, px, py, size=FS, angle=0, bold=False, anchor="center"):
    annotations.append(dict(text=f"<b>{text}</b>" if bold else text, x=px / W, y=1 - py / H, xref="paper", yref="paper", showarrow=False, textangle=angle,
                            xanchor=anchor, yanchor="middle", font=dict(family=FONT, size=size, color="#111111" if bold else TXT)))

# panel A
for i, g in enumerate(pca_groups):
    line_c = pca_colors[i]
    if pca_filled[i]:
        marker = dict(symbol="hexagon", size=6.8, angle=20, color=line_c, line=dict(width=0))
    else:
        marker = dict(symbol="circle-open", size=5.4, color=line_c, line=dict(width=2, color=line_c))
    fig.add_trace(go.Scatter(x=pca_x[i], y=pca_y[i], mode="markers", marker=marker, name=g, xaxis="x", yaxis="y", showlegend=False, cliponaxis=False))
    # legend row
    fig.add_trace(go.Scatter(x=[0], y=[legend_rows[i]], mode="markers+text", text=[" " + g], textposition="middle right", textfont=dict(family=FONT, size=FS, color=TXT),
                             marker=marker, name=g, xaxis="x8", yaxis="y8", showlegend=False, cliponaxis=False))

volcano = [
    ("2", b_points, "#4a6060", b_labels, [-6,-5,-4,-3,-2,-1,0,1,2,3,4,5,6,7,8], [0,1,2,3,4,5], (36.7, 401), (324, 511.7), (-6.8, 9.18), (0, 5.54), 1.41, 7),
    ("3", c_points, "#000000", c_labels, [-6,-5,-4,-3,-2,-1,0,1,2,3,4,5,6], [0,1,2,3,4,5,6], (36.7, 401), (592.3, 782), (-7.21, 7.8), (0, 6.83), 1.40, 10),
    ("4", d_points, "#d9914f", d_labels, [-5,-4,-3,-2,-1,0,1,2,3,4,5,6,7,8], [0,1,2,3,4,5], (35.3, 396), (866.7, 1058), (-5.69, 8.17), (0, 5.55), 1.38, 1),
    ("5", e_points, "#d9914f", e_labels, [-4,-3,-2,-1,0,1,2,3,4], [0,1,2,3,4,5,6], (35.7, 401), (1139.3, 1325.7), (-4.45, 4.8), (0, 6.65), 1.40, 0),
]
layout = {}
for s, pts, col, labels, xt, yt, xd, yd, xr, yr, th, standoff in volcano:
    fig.add_trace(go.Scatter(x=[p[0] for p in pts], y=[p[1] for p in pts], mode="markers", marker=dict(size=6, color=col), xaxis="x" + s, yaxis="y" + s,
                             showlegend=False, cliponaxis=False))
    layout["xaxis" + s] = ax_base(domain=dom_x(*xd), range=list(xr), anchor="y" + s, tickvals=xt, ticktext=["0" if v == 0 else f"{v:.1f}" for v in xt],
                                  ticks="", ticklabelstandoff=standoff)
    layout["yaxis" + s] = ax_base(domain=dom_y(*yd), range=list(yr), anchor="x" + s, tickvals=yt, ticktext=[str(v) for v in yt], ticks="", ticklabelstandoff=5)
    for v in (-1, 1):
        shapes.append(dict(type="line", xref="x" + s, yref=f"y{s} domain", x0=v, x1=v, y0=0, y1=1, layer="above", line=dict(color="#4f6f76", width=2, dash="3px,2px")))
    shapes.append(dict(type="line", xref=f"x{s} domain", yref="y" + s, x0=0, x1=1, y0=th, y1=th, layer="above", line=dict(color="#4f6f76", width=2, dash="5px,3px")))
    for t, lx, ly in labels:
        annotations.append(dict(text=t, x=lx, y=ly, xref="x" + s, yref="y" + s, showarrow=False, xanchor="center", yanchor="middle", font=dict(family=FONT, size=FS, color=TXT)))

layout["xaxis"] = ax_base(domain=dom_x(34, 323), range=[-2.22, 2.21], anchor="y", tickvals=[-2,-1,0,1,2], ticktext=["-2","","0","","2"], ticks="outside", ticklen=8, tickwidth=1.5,
                          tickcolor="#111111", ticklabelstandoff=3)
layout["yaxis"] = ax_base(domain=dom_y(37, 247), range=[-2.22, 2.21], anchor="x", tickvals=[-2,-1,0,1,2], ticktext=["-2","","0","","2"], ticks="outside", ticklen=8, tickwidth=1.5,
                          tickcolor="#111111", ticklabelstandoff=1)
layout["xaxis8"] = dict(domain=dom_x(345, 520), range=[-.4, 10], visible=False, anchor="y8", fixedrange=True)
layout["yaxis8"] = dict(domain=dom_y(75, 231.7), range=[5.4, 0], visible=False, anchor="x8", fixedrange=True)

# heatmap
HL, HR, HT, HB = 685.7, 824.7, 57.3, 1342
fig.add_trace(go.Heatmap(z=heat_z, x=list(range(13)), y=list(range(len(genes))), zmin=-2, zmax=2, xaxis="x6", yaxis="y6", hoverongaps=False,
                         colorscale=[[0, "#1433ff"], [.5, "#ffffff"], [1, "#ff4600"]],
                         colorbar=dict(orientation="h", lenmode="pixels", len=139, thicknessmode="pixels", thickness=14, x=755.2 / W, xanchor="center",
                                       y=1 - 1366.7 / H, yanchor="bottom", outlinewidth=1.3, outlinecolor="#111111", ticks="", showticklabels=False, xpad=0, ypad=0)))
layout["xaxis6"] = dict(domain=dom_x(HL, HR), range=[-.5, 12.5], anchor="y6", showticklabels=False, ticks="", showgrid=False, zeroline=False, showline=True, mirror=True,
                        linecolor="#222222", linewidth=1.5, fixedrange=True)
layout["yaxis6"] = dict(domain=dom_y(HT, HB), range=[len(genes) - .5, -.5], anchor="x6", tickmode="array", tickvals=list(range(len(genes))), ticktext=genes, ticks="", showgrid=False,
                        zeroline=False, showline=True, mirror=True, linecolor="#222222", linewidth=1.5, tickfont=dict(family=FONT, size=FS, color="#111111"), fixedrange=True)
fig.add_trace(go.Scatter(x=dx, y=dy, mode="lines", line=dict(color="rgba(30,45,205,0.85)", width=1.3), xaxis="x7", yaxis="y7", showlegend=False))
layout["xaxis7"] = dict(domain=dom_x(525, 635), range=[0, 110], visible=False, anchor="y7", fixedrange=True)
layout["yaxis7"] = dict(domain=dom_y(HT, HB), range=[len(genes) - .5, -.5], visible=False, anchor="x7", fixedrange=True)

# column group bars
group_bars = [(-.5, 2.21, "#111111"), (2.71, 7.64, "#9fb5b5"), (7.7, 12.5, "#111111")]
for a, b, c in group_bars:
    shapes.append(dict(type="rect", xref="x6", yref="paper", x0=a, x1=b, y0=1 - 56.5 / H, y1=1 - 52 / H, fillcolor=c, line=dict(width=0)))
paper_text("+/SVC", 701, 40)
paper_text("Col4a3-/-", 745, 40)
paper_text("Col4a5-/-", 799, 40)
paper_text("-2", 674, 1360)
paper_text("2", 832, 1360)
paper_text("Log10 fold change Mutant/WT", 760, 1376)

# titles
paper_text("Component 1 (74%)", 168, 287)
paper_text("Component 2 (11%)", 6, 152, angle=-90)
paper_text("Log2(FC Early Col4a3--/Control)", 211, 547)
paper_text("-Log10(p value)", 11, 407, angle=-90)
paper_text("Log2(FC Late Col4a3--/Control)", 226, 819)
paper_text("-Log10(p value)", 11, 675, angle=-90)
paper_text("Log2(FC Early Col4a5--/Control)", 235, 1084)
paper_text("-Log10(p value)", 6, 952, angle=-90)
paper_text("Log2(FC Late Col4a5--/Control)", 232, 1352)
paper_text("-Log10(p value)", 11, 1220, angle=-90)
for t, py, px in [("A", 13, 13), ("B", 291, 13), ("C", 567, 13), ("D", 839, 13), ("E", 1115, 13)]:
    paper_text(t, px, py, size=24, bold=True)
paper_text("F", 534, 13, size=24, bold=True)

fig.update_layout(width=W, height=H, margin=dict(l=0, r=0, t=0, b=0), paper_bgcolor="white", plot_bgcolor="white", autosize=False, showlegend=False,
                  annotations=annotations, shapes=shapes, font=dict(family=FONT, size=FS, color=TXT), **layout)
fig.write_html("out.html", post_script="document.body.style.margin='0';", config={"displayModeBar": False})
